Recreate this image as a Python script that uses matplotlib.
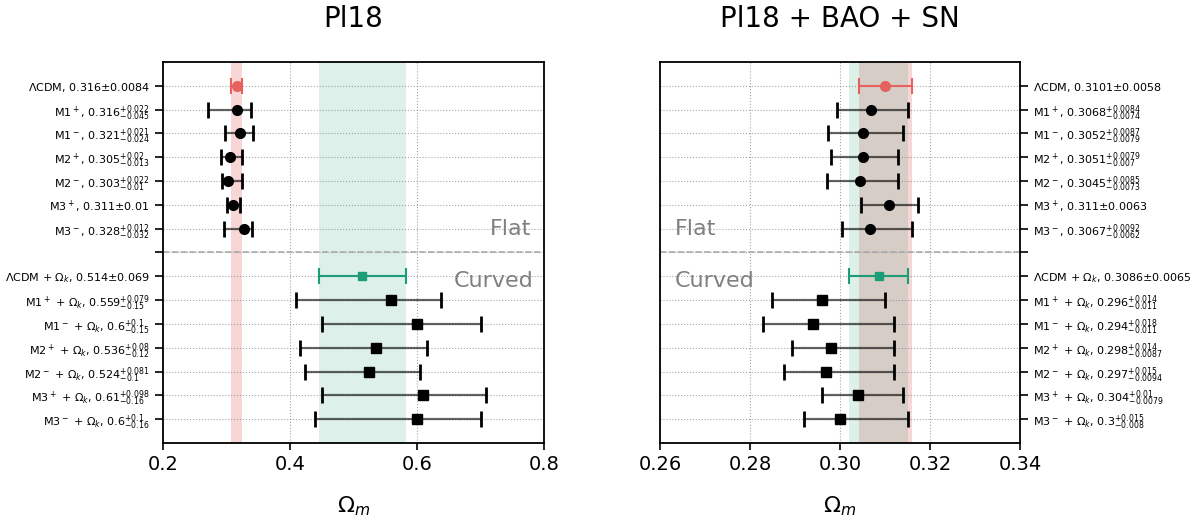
import matplotlib
matplotlib.use("Agg")
import matplotlib.pyplot as plt

RED = "#e5625e"
TEAL = "#1b9e77"

names_flat = ["$\\Lambda$CDM", "M1$^+$", "M1$^-$", "M2$^+$", "M2$^-$", "M3$^+$", "M3$^-$"]
names_curved = [n + " + $\\Omega_k$" for n in names_flat]

# Pl18
pl_c = [0.316, 0.316, 0.321, 0.305, 0.303, 0.311, 0.328,
        0.514, 0.559, 0.6, 0.536, 0.524, 0.61, 0.6]
pl_p = [0.0084, 0.022, 0.021, 0.02, 0.022, 0.01, 0.012,
        0.069, 0.079, 0.1, 0.08, 0.081, 0.098, 0.1]
pl_m = [0.0084, 0.045, 0.024, 0.013, 0.01, 0.01, 0.032,
        0.069, 0.15, 0.15, 0.12, 0.1, 0.16, 0.16]

# Pl18 + BAO + SN
all_c = [0.3101, 0.3068, 0.3052, 0.3051, 0.3045, 0.311, 0.3067,
         0.3086, 0.296, 0.294, 0.298, 0.297, 0.304, 0.3]
all_p = [0.0058, 0.0084, 0.0087, 0.0079, 0.0085, 0.0063, 0.0092,
         0.0065, 0.014, 0.018, 0.014, 0.015, 0.01, 0.015]
all_m = [0.0058, 0.0074, 0.0079, 0.007, 0.0073, 0.0063, 0.0062,
         0.0065, 0.011, 0.011, 0.0087, 0.0094, 0.0079, 0.008]


def _label(name, c, p, m):
    if p == m:
        return f"{name}, {c}±{p}"
    return f"{name}, {c}$^{{+{p}}}_{{-{m}}}$"


def _panel(ax, c, p, m, title, xlim, xticks, right=False):
    names = names_flat + names_curved
    ypos = [i if i < 7 else i + 1 for i in range(14)]
    # reference bands: flat LCDM (red) then curved LCDM (teal) on top
    ax.axvspan(c[0] - m[0], c[0] + p[0], color=RED, alpha=0.26, lw=0, zorder=0.5)
    ax.axvspan(c[7] - m[7], c[7] + p[7], color=TEAL, alpha=0.15, lw=0, zorder=0.6)
    for i in range(14):
        if i == 0:
            col, mk, ms, lw, ct, a = RED, "o", 7, 1.5, 1.5, 1.0
        elif i == 7:
            col, mk, ms, lw, ct, a = TEAL, "s", 6, 1.5, 1.5, 1.0
        else:
            col, mk, ms, lw, ct, a = "k", "o" if i < 7 else "s", 7, 1.6, 2.0, 0.6
        _, _, bars = ax.errorbar(c[i], ypos[i], xerr=[[m[i]], [p[i]]], fmt=mk, color=col,
                                 ms=ms, elinewidth=lw, capsize=5.5, capthick=ct, zorder=3)
        bars[0].set_alpha(a)
    ax.axhline(7, color="#aaaaaa", ls="--", lw=1.2, zorder=2)
    labels = [_label(names[i], c[i], p[i], m[i]) for i in range(14)]
    ax.set_yticks(range(15))
    ax.set_yticklabels(labels[:7] + [""] + labels[7:], fontsize=8)
    ax.set_ylim(15, -1)
    ax.set_xlim(*xlim)
    ax.set_xticks(xticks)
    ax.tick_params(axis="x", labelsize=14, length=5, width=1.2)
    ax.tick_params(axis="y", length=6, width=1.2)
    ax.grid(True, ls=":", color="grey", lw=0.8, alpha=0.7)
    for s in ax.spines.values():
        s.set_linewidth(1.3)
    ax.set_title(title, fontsize=20, pad=25)
    ax.set_xlabel("$\\Omega_m$", fontsize=16, labelpad=15)
    if right:
        ax.yaxis.tick_right()
        ax.text(xlim[0] + 0.0033, 6.0, "Flat", fontsize=16, color="grey", va="center")
        ax.text(xlim[0] + 0.0033, 8.2, "Curved", fontsize=16, color="grey", va="center")
    else:
        ax.text(0.78, 6.0, "Flat", fontsize=16, color="grey", va="center", ha="right")
        ax.text(0.783, 8.2, "Curved", fontsize=16, color="grey", va="center", ha="right")


fig = plt.figure(figsize=(11.93, 5.23), dpi=100)
ax1 = fig.add_axes([0.1366, 0.153, 0.3194, 0.7285])
ax2 = fig.add_axes([0.5532, 0.153, 0.3018, 0.7285])
_panel(ax1, pl_c, pl_p, pl_m, "Pl18", (0.2, 0.8), [0.2, 0.4, 0.6, 0.8])
_panel(ax2, all_c, all_p, all_m, "Pl18 + BAO + SN", (0.26, 0.34),
       [0.26, 0.28, 0.30, 0.32, 0.34], right=True)
ax2.set_xticklabels(["0.26", "0.28", "0.30", "0.32", "0.34"])
fig.savefig("out.png", dpi=100)
